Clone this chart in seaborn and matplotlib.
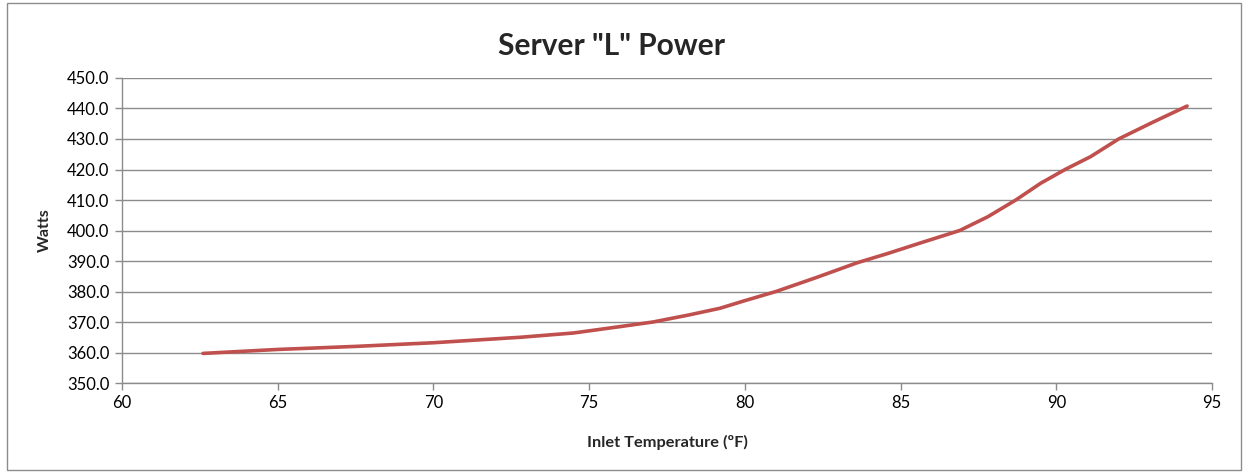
import matplotlib
matplotlib.use("Agg")
import matplotlib.pyplot as plt
import seaborn as sns
import pandas as pd
from matplotlib.patches import Rectangle

temps = [62.6, 65.0, 67.5, 70.0, 72.8, 74.5, 76.0, 77.05, 78.2, 79.2, 80.0, 81.0,
         82.3, 83.6, 84.6, 85.6, 86.9, 87.8, 88.7, 89.5, 90.3, 91.1, 92.0, 93.1, 94.2]
watts = [359.7, 361.0, 362.0, 363.2, 365.0, 366.4, 368.5, 370.0, 372.3, 374.5, 377.0, 380.0,
         384.6, 389.4, 392.5, 395.8, 400.0, 404.5, 410.0, 415.5, 420.1, 424.2, 430.0, 435.5, 440.8]
x_ticks = [60, 65, 70, 75, 80, 85, 90, 95]
y_ticks = [350, 360, 370, 380, 390, 400, 410, 420, 430, 440, 450]

sns.set_theme(style="white")
plt.rcParams['font.family'] = ['Lato', 'DejaVu Sans']

df = pd.DataFrame({"Inlet Temperature": temps, "Watts": watts})

fig = plt.figure(figsize=(12.48, 4.73), dpi=100)
ax = fig.add_axes([122/1248, 1 - 383/473, 1090/1248, 305/473])

sns.lineplot(data=df, x="Inlet Temperature", y="Watts", ax=ax,
             color="#C0504D", linewidth=2.6, sort=True)
for l in ax.lines:
    l.set_solid_joinstyle("round")
    l.set_solid_capstyle("round")

ax.set_xlim(60, 95)
ax.set_ylim(350, 450)
ax.set_xticks(x_ticks)
ax.set_yticks(y_ticks)
ax.set_xticklabels([str(t) for t in x_ticks], fontsize=12)
ax.set_yticklabels([f"{t:.1f}" for t in y_ticks], fontsize=12)

ax.yaxis.grid(True, color="#8C8C8C", linewidth=1.0)
ax.xaxis.grid(False)
ax.set_axisbelow(True)

for s in ["top", "right"]:
    ax.spines[s].set_visible(False)
for s in ["left", "bottom"]:
    ax.spines[s].set_visible(True)
    ax.spines[s].set_color("#8C8C8C")
    ax.spines[s].set_linewidth(1.0)

ax.tick_params(axis="both", which="major", direction="out", length=5, width=1,
               color="#8C8C8C", labelcolor="black", bottom=True, left=True, pad=4)

ax.set_xlabel("Inlet Temperature (ºF)", fontsize=11.8, fontweight="bold", labelpad=17)
ax.set_ylabel("Watts", fontsize=11.5, fontweight="bold", labelpad=11)
fig.text(611/1248, 1 - 46/473, 'Server "L" Power', ha="center", va="center",
         fontsize=21.5, fontweight="bold")

fig.patches.append(Rectangle((7/1248, 3/473), 1 - 14/1248, 1 - 6/473,
                             transform=fig.transFigure, fill=False,
                             edgecolor="#8C8C8C", linewidth=1.0))

fig.savefig("out.png", dpi=100, facecolor="white")
